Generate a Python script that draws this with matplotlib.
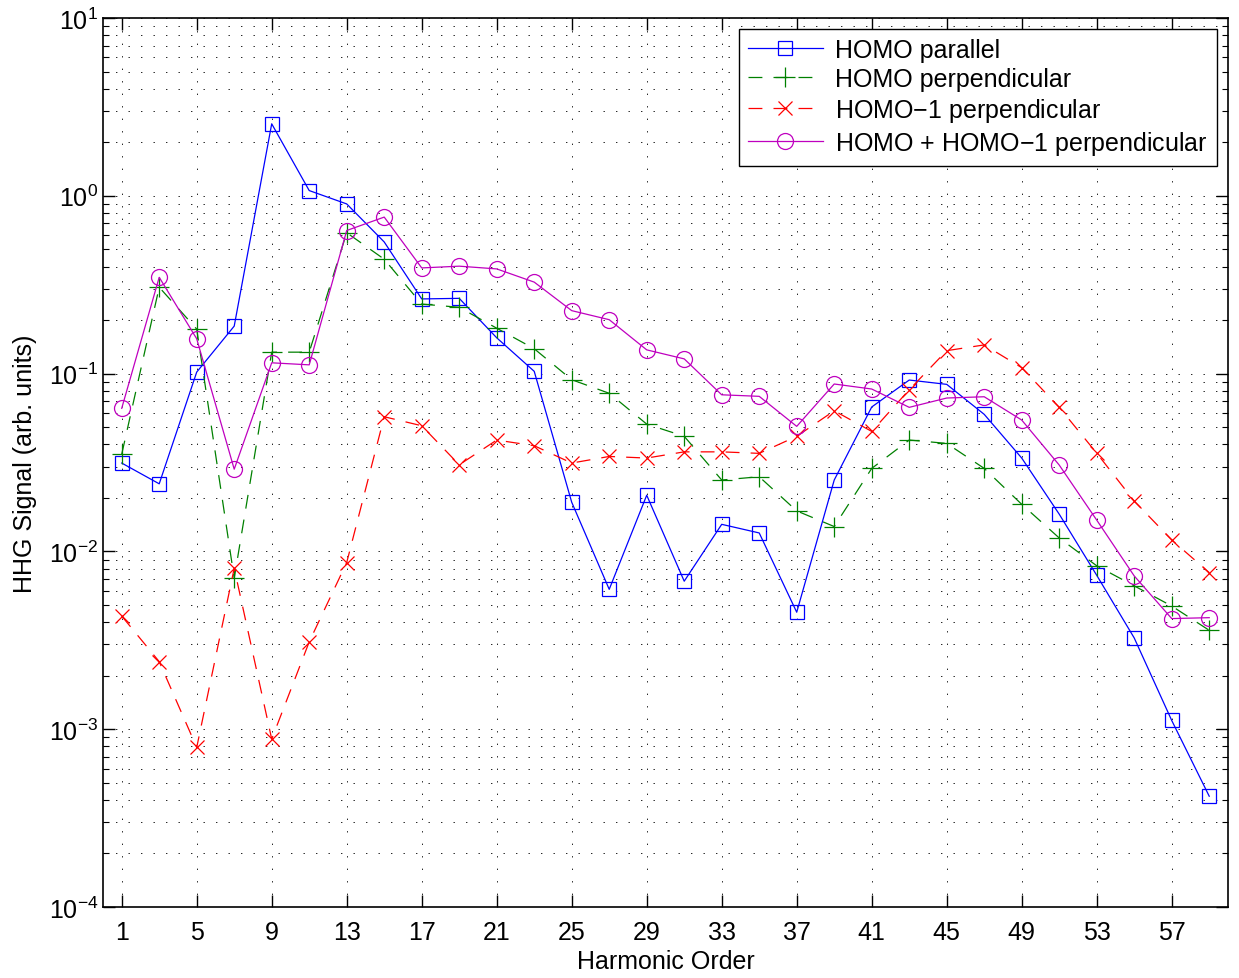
import numpy as np
import matplotlib
matplotlib.use('Agg')
import matplotlib.pyplot as plt
from matplotlib.ticker import LogLocator, NullFormatter, FixedLocator

plt.rcParams['font.family'] = ['Liberation Sans', 'DejaVu Sans']
plt.rcParams['mathtext.fontset'] = 'custom'
plt.rcParams['mathtext.rm'] = 'Liberation Sans'
plt.rcParams['lines.scale_dashes'] = False

harmonics = list(range(1, 60, 2))

homo_par = [0.0314, 0.024, 0.102, 0.185, 2.54, 1.07, 0.90, 0.55, 0.263, 0.265,
            0.159, 0.103, 0.0189, 0.00612, 0.0207, 0.0068, 0.0142, 0.0127, 0.00455, 0.0252,
            0.0649, 0.092, 0.087, 0.059, 0.0335, 0.0162, 0.00734, 0.00326, 0.00112, 0.00042]

homo_perp = [0.0352, 0.306, 0.178, 0.00706, 0.132, 0.132, 0.62, 0.44, 0.246, 0.236,
             0.180, 0.138, 0.0924, 0.0775, 0.052, 0.0444, 0.0252, 0.0263, 0.0169, 0.0138,
             0.0293, 0.0423, 0.0405, 0.0293, 0.0184, 0.0119, 0.0083, 0.0064, 0.00493, 0.0036]

homo1_perp = [0.00433, 0.0024, 0.00079, 0.00804, 0.00088, 0.0031, 0.00866, 0.0572, 0.0509, 0.0307,
              0.0423, 0.0393, 0.0314, 0.0342, 0.0335, 0.0363, 0.0363, 0.0356, 0.0444, 0.0618,
              0.0473, 0.0811, 0.1346, 0.145, 0.108, 0.0646, 0.0357, 0.0192, 0.0116, 0.0076]

homo_sum_perp = [0.0638, 0.348, 0.157, 0.029, 0.115, 0.112, 0.638, 0.759, 0.393, 0.402,
                 0.388, 0.327, 0.226, 0.201, 0.136, 0.121, 0.076, 0.0745, 0.0505, 0.0874,
                 0.0819, 0.0646, 0.0729, 0.0741, 0.0548, 0.0306, 0.0150, 0.00728, 0.00419, 0.00424]

xticks = list(range(1, 58, 4))

fig = plt.figure(figsize=(12.39, 9.79), dpi=100)
ax = fig.add_axes([0.0831, 0.0725, 0.9080, 0.9081])

dash = (0, (10, 8))
ax.semilogy(harmonics, homo_par, color='b', lw=0.9, marker='s', ms=10,
            mfc='none', mew=0.9, label='HOMO parallel')
ax.semilogy(harmonics, homo_perp, color=(0, 0.5, 0), lw=0.9, ls=dash, marker='+', ms=14,
            mew=0.9, label='HOMO perpendicular')
ax.semilogy(harmonics, homo1_perp, color='r', lw=0.9, ls=dash, marker='x', ms=10,
            mew=0.9, label='HOMO$-$1 perpendicular')
ax.semilogy(harmonics, homo_sum_perp, color='#bf00bf', lw=0.9, marker='o', ms=11.5,
            mfc='none', mew=0.9, label='HOMO + HOMO$-$1 perpendicular')

ax.set_xlim(0, 60)
ax.set_ylim(1e-4, 1e1)
ax.xaxis.set_major_locator(FixedLocator(xticks))
ax.yaxis.set_major_locator(LogLocator(base=10, numticks=10))
ax.yaxis.set_minor_locator(LogLocator(base=10, subs=np.arange(2, 10), numticks=20))
ax.yaxis.set_minor_formatter(NullFormatter())

grid_ls = (0, (1, 8))
ax.grid(True, which='major', axis='both', color='k', lw=0.6, ls=grid_ls)
ax.grid(True, which='minor', axis='y', color='k', lw=0.6, ls=grid_ls)
ax.set_axisbelow(True)

ax.tick_params(which='both', direction='in', top=True, right=True, labelsize=18)
ax.tick_params(which='major', length=8.5, width=1)
ax.tick_params(which='minor', length=4, width=0.8)
ax.tick_params(axis='x', pad=9)
for s in ax.spines.values():
    s.set_linewidth(1.2)

ax.set_xlabel('Harmonic Order', fontsize=18, labelpad=4)
ax.set_ylabel('HHG Signal (arb. units)', fontsize=18, labelpad=8)

leg = ax.legend(loc='upper right', fontsize=18, frameon=True, fancybox=False,
                edgecolor='k', framealpha=1, handlelength=3.0, handletextpad=0.5,
                borderaxespad=0.45, labelspacing=0.2, borderpad=0.35)
leg.get_frame().set_linewidth(1.0)

fig.savefig('out.png', dpi=100)
